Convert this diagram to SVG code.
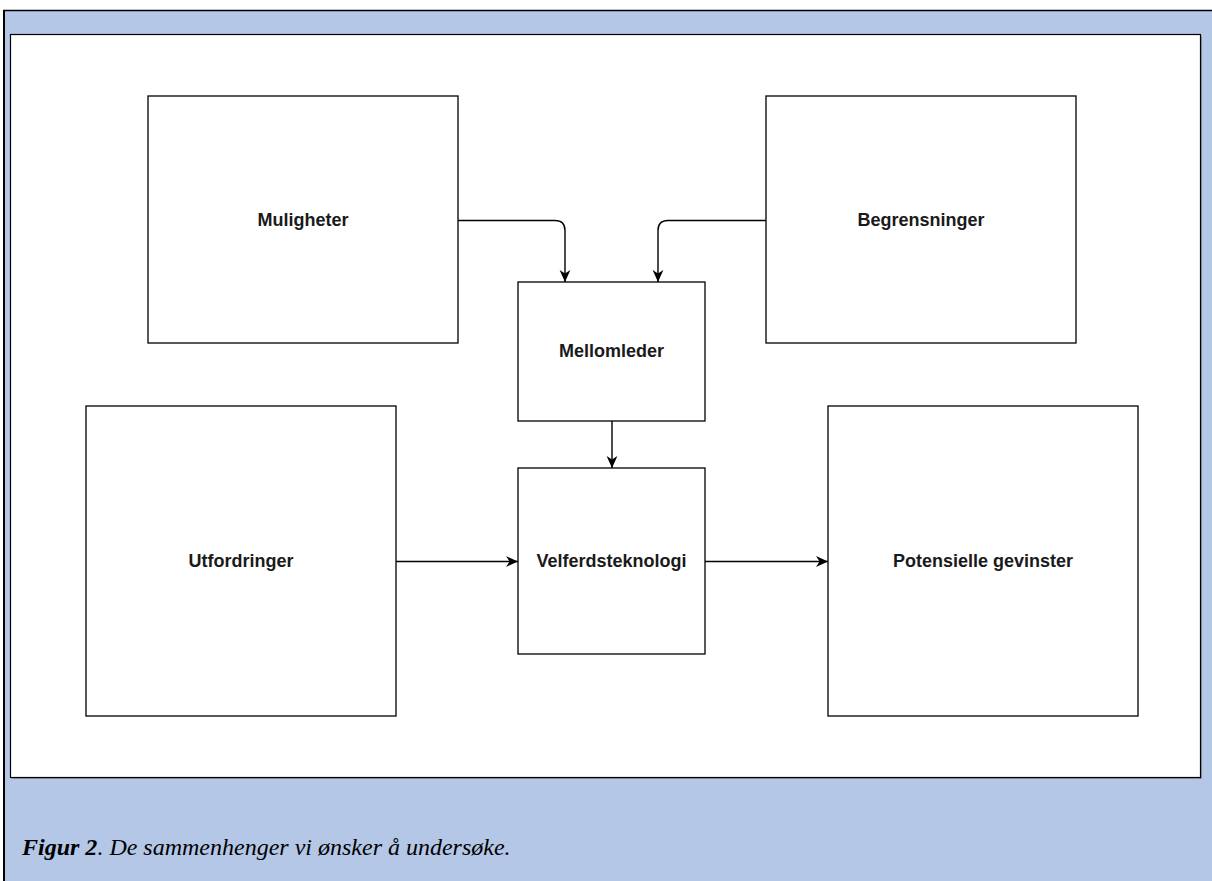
<svg xmlns="http://www.w3.org/2000/svg" width="1212" height="881" viewBox="0 0 1212 881">
<defs>
<marker id="arr" viewBox="0 0 10 10" refX="10" refY="5" markerWidth="12" markerHeight="12" markerUnits="userSpaceOnUse" orient="auto">
<path d="M0,0.5 L10,5 L0,9.5 L3,5 Z" fill="#000"/>
</marker>
<style>
.box{fill:#fff;stroke:#000;stroke-width:1.3}
.lbl{font-family:"Liberation Sans",Arial,sans-serif;font-size:18px;font-weight:bold;fill:#1a1a1a;text-anchor:middle;dominant-baseline:central}
.edge{fill:none;stroke:#000;stroke-width:1.4;marker-end:url(#arr)}
</style>
</defs>
<rect x="0" y="0" width="1212" height="881" fill="#fff"/>
<rect x="3" y="10" width="1209" height="871" fill="#b4c7e7"/>
<line x1="3" y1="10.5" x2="1212" y2="10.5" stroke="#000" stroke-width="1.5"/>
<line x1="4" y1="10" x2="4" y2="881" stroke="#000" stroke-width="2"/>
<rect x="12" y="36" width="1190" height="743" fill="#666" opacity="0.5"/>
<rect x="10.5" y="34.5" width="1190" height="743" fill="#fff" stroke="#000" stroke-width="1.2"/>
<g id="muligheter"><rect class="box" x="148" y="96" width="310" height="247"/><text class="lbl" x="303" y="220">Muligheter</text></g>
<g id="begrensninger"><rect class="box" x="766" y="96" width="310" height="247"/><text class="lbl" x="921" y="220">Begrensninger</text></g>
<g id="mellomleder"><rect class="box" x="518" y="282" width="187" height="139"/><text class="lbl" x="611.5" y="351">Mellomleder</text></g>
<g id="velferdsteknologi"><rect class="box" x="518" y="468" width="187" height="186"/><text class="lbl" x="611.5" y="561">Velferdsteknologi</text></g>
<g id="utfordringer"><rect class="box" x="86" y="406" width="310" height="310"/><text class="lbl" x="241" y="561">Utfordringer</text></g>
<g id="gevinster"><rect class="box" x="828" y="406" width="310" height="310"/><text class="lbl" x="983" y="561">Potensielle gevinster</text></g>
<g id="connectors">
<path class="edge" d="M458,220.5 H555 Q565,220.5 565,230.5 V282"/>
<path class="edge" d="M766,220.5 H668 Q658,220.5 658,230.5 V282"/>
<path class="edge" d="M612,421 V468"/>
<path class="edge" d="M396,561.5 H518"/>
<path class="edge" d="M705,561.5 H828"/>
</g>
<text x="22" y="855" font-family="'Liberation Serif','Times New Roman',serif" font-size="24" font-style="italic" fill="#000"><tspan font-weight="bold">Figur 2</tspan>. De sammenhenger vi ønsker å undersøke.</text>
</svg>
